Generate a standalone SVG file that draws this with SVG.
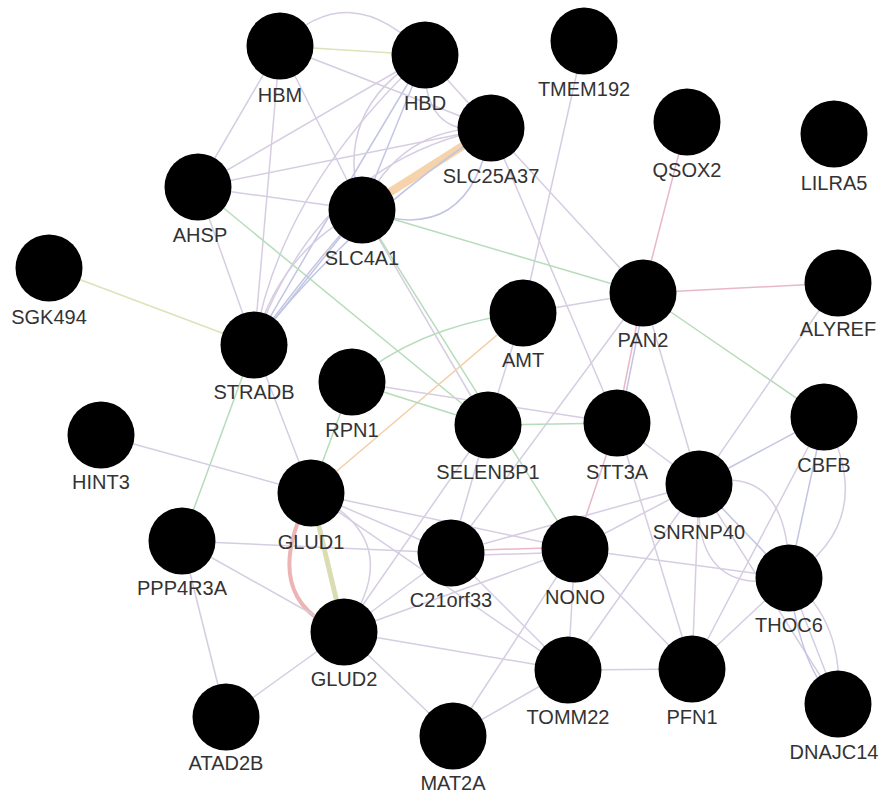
<svg xmlns="http://www.w3.org/2000/svg" width="880" height="793" viewBox="0 0 880 793">
<style>
.e{fill:none;stroke:#d6cde2;stroke-width:1.5}
.b{fill:none;stroke:#c2c5e4;stroke-width:1.5}
.g{fill:none;stroke:#b6dcba;stroke-width:1.5}
.p{fill:none;stroke:#e8b8c8;stroke-width:1.5}
.y{fill:none;stroke:#dfe2b8;stroke-width:1.5}
.o{fill:none;stroke:#f3cfa8;stroke-width:1.5}
.n circle{fill:#000}
.n text{font-family:"Liberation Sans",Arial,sans-serif;font-size:20px;fill:#333;text-anchor:middle}
</style>
<rect width="880" height="793" fill="#fff"/>
<g id="connectors">
<path class="e" d="M280,46 Q350,-25 425,55"/>
<path class="y" d="M280,46 L425,55"/>
<path class="e" d="M280,46 L198,187"/>
<path class="e" d="M280,46 L254,345"/>
<path class="e" d="M280,46 L362,210"/>
<path class="e" d="M280,46 L491,128"/>
<path class="e" d="M425,55 L198,187"/>
<path class="e" d="M425,55 Q330,110 362,210"/>
<path class="b" d="M425,55 L362,210"/>
<path class="e" d="M425,55 Q280,190 254,345"/>
<path class="b" d="M425,55 Q320,230 254,345"/>
<path class="e" d="M425,55 Q420,140 491,128"/>
<path class="e" d="M425,55 L491,128"/>
<path class="e" d="M491,128 L198,187"/>
<path class="o" d="M491,128 L362,210" style="stroke:#f6d3aa;stroke-width:8"/>
<path class="e" d="M491,128 Q400,125 362,210"/>
<path class="b" d="M491,128 Q470,250 362,210"/>
<path class="e" d="M491,128 Q320,160 254,345"/>
<path class="b" d="M491,128 Q350,220 254,345"/>
<path class="e" d="M491,128 L643,293"/>
<path class="e" d="M491,128 L617,423"/>
<path class="e" d="M584,41 L523,313"/>
<path class="p" d="M687,122 L643,293"/>
<path class="e" d="M198,187 L362,210"/>
<path class="e" d="M198,187 L254,345"/>
<path class="g" d="M198,187 L488,425"/>
<path class="y" d="M49,268 L254,345"/>
<path class="e" d="M362,210 Q280,250 254,345"/>
<path class="b" d="M362,210 Q300,280 254,345"/>
<path class="b" d="M362,210 L254,345"/>
<path class="g" d="M362,210 L643,293"/>
<path class="e" d="M362,210 L488,425"/>
<path class="g" d="M362,210 L575,549"/>
<path class="e" d="M254,345 L311,493"/>
<path class="g" d="M254,345 L182,541"/>
<path class="e" d="M101,435 L311,493"/>
<path class="g" d="M523,313 Q420,325 352,382"/>
<path class="o" d="M523,313 L311,493"/>
<path class="e" d="M523,313 L643,293"/>
<path class="e" d="M523,313 L488,425"/>
<path class="g" d="M352,382 L488,425"/>
<path class="e" d="M352,382 L617,423"/>
<path class="g" d="M352,382 L311,493"/>
<path class="p" d="M643,293 L838,283"/>
<path class="g" d="M643,293 L824,417"/>
<path class="p" d="M643,293 L617,423"/>
<path class="b" d="M646,293 L620,423"/>
<path class="e" d="M643,293 L699,484"/>
<path class="e" d="M643,293 L451,553"/>
<path class="e" d="M838,283 L699,484"/>
<path class="b" d="M824,417 L699,484"/>
<path class="b" d="M824,417 L789,578"/>
<path class="e" d="M824,417 Q880,520 789,578"/>
<path class="e" d="M824,417 L692,669"/>
<path class="g" d="M488,425 L617,423"/>
<path class="e" d="M488,425 L451,553"/>
<path class="e" d="M488,425 L344,632"/>
<path class="e" d="M617,423 L699,484"/>
<path class="p" d="M617,423 L575,549"/>
<path class="e" d="M617,423 L692,669"/>
<path class="e" d="M699,484 Q790,460 789,578"/>
<path class="e" d="M699,484 Q690,600 789,578"/>
<path class="b" d="M699,484 L789,578"/>
<path class="e" d="M699,484 L692,669"/>
<path class="e" d="M699,484 L575,549"/>
<path class="e" d="M699,484 L451,553"/>
<path class="e" d="M699,484 L568,670"/>
<path class="e" d="M699,484 L838,704"/>
<path class="p" d="M311,493 Q255,600 344,632" style="stroke:#edb4b4;stroke-width:4"/>
<path class="y" d="M311,493 L344,632" style="stroke:#dcdcb2;stroke-width:5"/>
<path class="e" d="M311,493 Q410,540 344,632"/>
<path class="e" d="M311,493 L451,553"/>
<path class="e" d="M311,493 L575,549"/>
<path class="e" d="M311,493 L568,670"/>
<path class="e" d="M182,541 L451,553"/>
<path class="e" d="M182,541 L344,632"/>
<path class="e" d="M182,541 L226,717"/>
<path class="e" d="M344,632 L226,717"/>
<path class="e" d="M344,632 L453,736"/>
<path class="e" d="M344,632 L451,553"/>
<path class="e" d="M344,632 L575,549"/>
<path class="e" d="M344,632 L568,670"/>
<path class="p" d="M451,551 L575,547"/>
<path class="e" d="M451,556 L575,552"/>
<path class="e" d="M451,553 L568,670"/>
<path class="e" d="M575,549 L789,578"/>
<path class="e" d="M575,549 L568,670"/>
<path class="e" d="M575,549 L692,669"/>
<path class="e" d="M575,549 L453,736"/>
<path class="e" d="M568,670 L692,669"/>
<path class="e" d="M568,670 L453,736"/>
<path class="e" d="M692,669 L789,578"/>
<path class="e" d="M789,578 L838,704"/>
<path class="e" d="M789,578 Q845,620 838,704"/>
<path class="b" d="M789,578 Q800,670 838,704"/>
</g>
<g id="HBM" class="n"><circle cx="280" cy="46" r="33.5"/><text x="280" y="102">HBM</text></g>
<g id="HBD" class="n"><circle cx="425" cy="55" r="33.5"/><text x="425" y="110">HBD</text></g>
<g id="SLC25A37" class="n"><circle cx="491" cy="128" r="33.5"/><text x="491" y="183">SLC25A37</text></g>
<g id="TMEM192" class="n"><circle cx="584" cy="41" r="33.5"/><text x="584" y="96">TMEM192</text></g>
<g id="QSOX2" class="n"><circle cx="687" cy="122" r="33.5"/><text x="687" y="177">QSOX2</text></g>
<g id="LILRA5" class="n"><circle cx="834" cy="134" r="33.5"/><text x="834" y="190">LILRA5</text></g>
<g id="AHSP" class="n"><circle cx="198" cy="187" r="33.5"/><text x="200" y="242">AHSP</text></g>
<g id="SLC4A1" class="n"><circle cx="362" cy="210" r="33.5"/><text x="362" y="265">SLC4A1</text></g>
<g id="SGK494" class="n"><circle cx="49" cy="268" r="33.5"/><text x="49" y="324">SGK494</text></g>
<g id="STRADB" class="n"><circle cx="254" cy="345" r="33.5"/><text x="254" y="399">STRADB</text></g>
<g id="AMT" class="n"><circle cx="523" cy="313" r="33.5"/><text x="523" y="367">AMT</text></g>
<g id="PAN2" class="n"><circle cx="643" cy="293" r="33.5"/><text x="643" y="347">PAN2</text></g>
<g id="ALYREF" class="n"><circle cx="838" cy="283" r="33.5"/><text x="838" y="336">ALYREF</text></g>
<g id="RPN1" class="n"><circle cx="352" cy="382" r="33.5"/><text x="352" y="437">RPN1</text></g>
<g id="SELENBP1" class="n"><circle cx="488" cy="425" r="33.5"/><text x="488" y="479">SELENBP1</text></g>
<g id="STT3A" class="n"><circle cx="617" cy="423" r="33.5"/><text x="617" y="479">STT3A</text></g>
<g id="CBFB" class="n"><circle cx="824" cy="417" r="33.5"/><text x="824" y="472">CBFB</text></g>
<g id="HINT3" class="n"><circle cx="101" cy="435" r="33.5"/><text x="101" y="489">HINT3</text></g>
<g id="SNRNP40" class="n"><circle cx="699" cy="484" r="33.5"/><text x="699" y="539">SNRNP40</text></g>
<g id="GLUD1" class="n"><circle cx="311" cy="493" r="33.5"/><text x="311" y="549">GLUD1</text></g>
<g id="PPP4R3A" class="n"><circle cx="182" cy="541" r="33.5"/><text x="182" y="595">PPP4R3A</text></g>
<g id="C21orf33" class="n"><circle cx="451" cy="553" r="33.5"/><text x="451" y="607">C21orf33</text></g>
<g id="NONO" class="n"><circle cx="575" cy="549" r="33.5"/><text x="575" y="604">NONO</text></g>
<g id="THOC6" class="n"><circle cx="789" cy="578" r="33.5"/><text x="789" y="632">THOC6</text></g>
<g id="GLUD2" class="n"><circle cx="344" cy="632" r="33.5"/><text x="344" y="686">GLUD2</text></g>
<g id="TOMM22" class="n"><circle cx="568" cy="670" r="33.5"/><text x="568" y="724">TOMM22</text></g>
<g id="PFN1" class="n"><circle cx="692" cy="669" r="33.5"/><text x="692" y="724">PFN1</text></g>
<g id="DNAJC14" class="n"><circle cx="838" cy="704" r="33.5"/><text x="834" y="759">DNAJC14</text></g>
<g id="ATAD2B" class="n"><circle cx="226" cy="717" r="33.5"/><text x="226" y="770">ATAD2B</text></g>
<g id="MAT2A" class="n"><circle cx="453" cy="736" r="33.5"/><text x="453" y="790">MAT2A</text></g>
</svg>
